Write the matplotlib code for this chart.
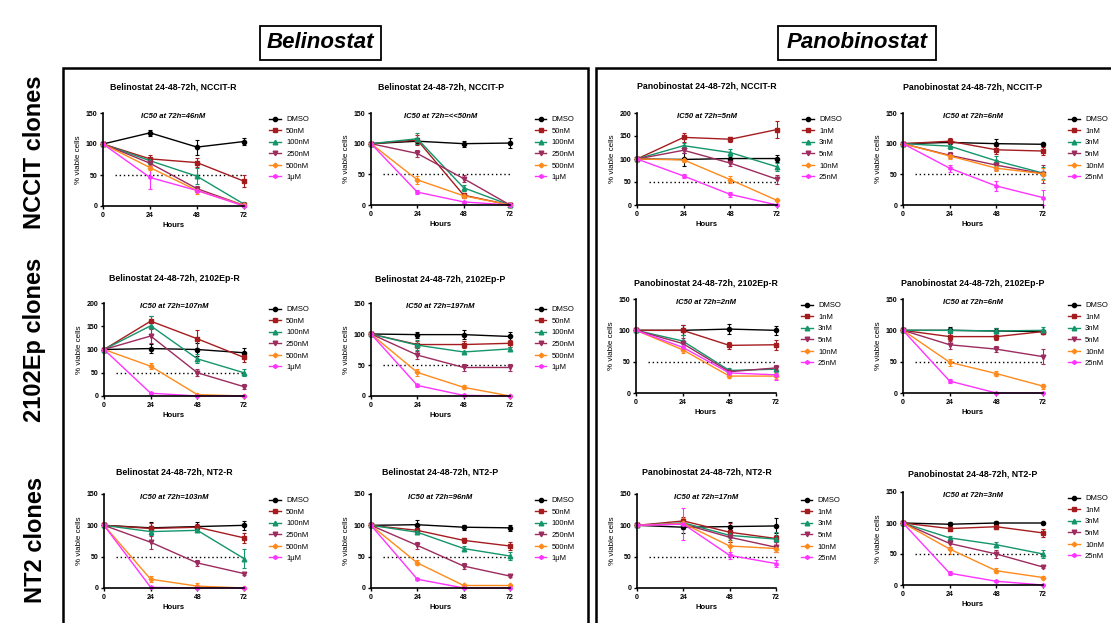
import matplotlib.pyplot as plt
from matplotlib.patches import Rectangle

plt.rcParams['font.family'] = ['Liberation Sans', 'DejaVu Sans']

W, H = 1111, 623

hours = [0, 24, 48, 72]
bel_doses = ['DMSO', '50nM', '100nM', '250nM', '500nM', '1\u03bcM']
pan_doses = ['DMSO', '1nM', '3nM', '5nM', '10nM', '25nM']

# % viable cells, one row per dose (DMSO first), columns = hours
bel_nccit_r = [[100, 118, 95, 104], [100, 76, 70, 40], [100, 73, 48, 3],
               [100, 69, 28, 1], [100, 62, 25, 1], [100, 46, 25, 0]]
bel_nccit_r_err = [[0, 5, 12, 5], [0, 7, 7, 10], [0, 5, 13, 4],
                   [0, 4, 4, 2], [0, 4, 5, 1], [0, 18, 3, 0]]

bel_nccit_p = [[100, 104, 100, 101], [100, 106, 16, 0], [100, 108, 28, 0],
               [100, 84, 43, 0], [100, 41, 15, 0], [100, 21, 5, 0]]
bel_nccit_p_err = [[0, 5, 5, 8], [0, 8, 4, 1], [0, 9, 5, 1],
                   [0, 5, 6, 1], [0, 7, 3, 0], [0, 3, 2, 0]]

pan_nccit_r = [[100, 99, 101, 101], [100, 147, 143, 164], [100, 129, 114, 83],
               [100, 119, 91, 56], [100, 98, 55, 10], [100, 63, 23, 0]]
pan_nccit_r_err = [[0, 15, 8, 8], [0, 10, 5, 18], [0, 5, 8, 8],
                   [0, 5, 7, 10], [0, 5, 8, 2], [0, 4, 5, 0]]

pan_nccit_p = [[100, 102, 100, 99], [100, 104, 90, 88], [100, 96, 72, 52],
               [100, 81, 65, 51], [100, 80, 60, 51], [100, 60, 31, 12]]
pan_nccit_p_err = [[0, 5, 8, 2], [0, 5, 7, 7], [0, 5, 8, 10],
                   [0, 5, 8, 15], [0, 5, 5, 10], [0, 6, 8, 12]]

bel_2102_r = [[100, 102, 100, 93], [100, 161, 123, 83], [100, 151, 80, 50],
              [100, 129, 50, 20], [100, 64, 3, 0], [100, 6, 0, 0]]
bel_2102_r_err = [[0, 10, 15, 10], [0, 10, 20, 10], [0, 20, 10, 8],
                  [0, 15, 7, 5], [0, 6, 1, 0], [0, 1, 0, 0]]

bel_2102_p = [[100, 99, 99, 96], [100, 83, 83, 85], [100, 82, 71, 76],
              [100, 66, 46, 46], [100, 38, 14, 0], [100, 17, 1, 0]]
bel_2102_p_err = [[0, 5, 7, 7], [0, 6, 6, 6], [0, 8, 2, 3],
                  [0, 6, 5, 6], [0, 5, 3, 0], [0, 2, 1, 0]]

pan_2102_r = [[100, 100, 102, 100], [100, 100, 76, 77], [100, 83, 36, 38],
              [100, 79, 34, 40], [100, 69, 27, 27], [100, 73, 32, 29]]
pan_2102_r_err = [[0, 8, 8, 7], [0, 8, 5, 8], [0, 10, 4, 5],
                  [0, 8, 3, 5], [0, 5, 3, 5], [0, 5, 3, 8]]

pan_2102_p = [[100, 100, 99, 98], [100, 90, 90, 98], [100, 100, 99, 100],
              [100, 77, 70, 58], [100, 49, 31, 11], [100, 19, 0, 0]]
pan_2102_p_err = [[0, 5, 4, 3], [0, 5, 5, 3], [0, 4, 4, 5],
                  [0, 6, 5, 12], [0, 6, 4, 4], [0, 3, 0, 0]]

bel_nt2_r = [[100, 96, 98, 100], [100, 95, 97, 80], [100, 90, 92, 47],
             [100, 73, 40, 23], [100, 14, 3, 0], [100, 1, 0, 0]]
bel_nt2_r_err = [[0, 10, 7, 7], [0, 8, 5, 8], [0, 5, 3, 15],
                 [0, 10, 5, 2], [0, 5, 5, 0], [0, 1, 0, 0]]

bel_nt2_p = [[100, 101, 97, 96], [100, 92, 76, 67], [100, 89, 63, 51],
             [100, 68, 35, 19], [100, 40, 4, 4], [100, 14, 0, 0]]
bel_nt2_p_err = [[0, 8, 4, 5], [0, 3, 4, 6], [0, 3, 4, 6],
                 [0, 6, 5, 2], [0, 4, 1, 1], [0, 2, 0, 0]]

pan_nt2_r = [[100, 97, 98, 99], [100, 107, 89, 79], [100, 104, 84, 78],
             [100, 102, 81, 65], [100, 103, 67, 63], [100, 102, 52, 39]]
pan_nt2_r_err = [[0, 10, 8, 12], [0, 6, 15, 5], [0, 5, 8, 12],
                 [0, 8, 7, 8], [0, 8, 15, 5], [0, 25, 5, 6]]

pan_nt2_p = [[100, 98, 100, 100], [100, 91, 94, 84], [100, 76, 65, 50],
             [100, 67, 50, 29], [100, 58, 23, 12], [100, 19, 6, 0]]
pan_nt2_p_err = [[0, 4, 3, 2], [0, 4, 4, 7], [0, 3, 4, 6],
                 [0, 5, 6, 2], [0, 8, 4, 2], [0, 3, 1, 0]]

titles = ['Belinostat 24-48-72h, NCCIT-R', 'Belinostat 24-48-72h, NCCIT-P',
          'Panobinostat 24-48-72h, NCCIT-R', 'Panobinostat 24-48-72h, NCCIT-P',
          'Belinostat 24-48-72h, 2102Ep-R', 'Belinostat 24-48-72h, 2102Ep-P',
          'Panobinostat 24-48-72h, 2102Ep-R', 'Panobinostat 24-48-72h, 2102Ep-P',
          'Belinostat 24-48-72h, NT2-R', 'Belinostat 24-48-72h, NT2-P',
          'Panobinostat 24-48-72h, NT2-R', 'Panobinostat 24-48-72h, NT2-P']
ic50 = ['46nM', '<<50nM', '5nM', '6nM', '107nM', '197nM',
        '2nM', '6nM', '103nM', '96nM', '17nM', '3nM']
ymaxes = [150, 150, 200, 150, 200, 150, 150, 150, 150, 150, 150, 150]

means = [bel_nccit_r, bel_nccit_p, pan_nccit_r, pan_nccit_p,
         bel_2102_r, bel_2102_p, pan_2102_r, pan_2102_p,
         bel_nt2_r, bel_nt2_p, pan_nt2_r, pan_nt2_p]
errs = [bel_nccit_r_err, bel_nccit_p_err, pan_nccit_r_err, pan_nccit_p_err,
        bel_2102_r_err, bel_2102_p_err, pan_2102_r_err, pan_2102_p_err,
        bel_nt2_r_err, bel_nt2_p_err, pan_nt2_r_err, pan_nt2_p_err]

# layout (pixels): x at 0h, x at 72h, y top, y at 0 ; title gap above axes
boxes = [(103, 244, 113, 206), (371, 510, 113, 205), (637, 777, 113, 205), (903, 1043, 113, 205),
         (104, 244, 303, 396), (371, 510, 303, 396), (636, 776, 299, 393), (903, 1043, 299, 393),
         (104, 244, 494, 588), (371, 510, 494, 588), (637, 776, 494, 588), (903, 1043, 492, 585)]
title_gap = [26, 26, 27, 26, 25, 24, 16, 16, 22, 22, 22, 18]

colors = ['#000000', '#a51c1f', '#14956b', '#9c2b5e', '#ff8a1c', '#ff33ff']
markers = ['o', 's', '^', 'v', 'D', 'h']
msizes = [3, 3, 3.3, 3.3, 2.4, 2.6]

fig = plt.figure(figsize=(W / 100, H / 100), dpi=100)

for i in range(12):
    x0, x1, yt, yb = boxes[i]
    w, h = x1 - x0, yb - yt
    ax = fig.add_axes([x0 / W, 1 - yb / H, w / W, h / H])
    doses = bel_doses if titles[i].startswith('Belinostat') else pan_doses
    handles = []
    for k in range(6):
        eb = ax.errorbar(hours, means[i][k], yerr=errs[i][k], color=colors[k],
                         marker=markers[k], ms=msizes[k], lw=1.0, elinewidth=0.8,
                         capsize=1.5, capthick=0.8, clip_on=False)
        handles.append(eb[0])
    ax.plot([6, 72], [50, 50], ls=(0, (1, 2)), color='black', lw=1.0)
    ax.set_xlim(0, 72)
    ax.set_ylim(0, ymaxes[i])
    ax.set_xticks(hours)
    ax.set_yticks(range(0, ymaxes[i] + 1, 50))
    for s in ['top', 'right']:
        ax.spines[s].set_visible(False)
    for s in ['left', 'bottom']:
        ax.spines[s].set_linewidth(1.2)
    ax.tick_params(direction='out', length=2.5, width=1, pad=1.5, labelsize=5)
    for lab in ax.get_xticklabels() + ax.get_yticklabels():
        lab.set_fontweight('bold')
    ax.set_xlabel('Hours', fontsize=5.5, fontweight='bold')
    ax.xaxis.set_label_coords(0.5, -16 / h)
    ax.set_ylabel('% viable cells', fontsize=5.8)
    ax.yaxis.set_label_coords(-21 / w, 0.5)
    ax.text(36, ymaxes[i] * 0.965, 'IC50 at 72h=' + ic50[i], ha='center', va='center',
            fontsize=5.5, fontweight='bold', fontstyle='italic')
    ax.text(0.5, 1 + title_gap[i] / h, titles[i], transform=ax.transAxes,
            ha='center', va='center', fontsize=6.3, fontweight='bold')
    ax.legend(handles, doses, loc='upper left', bbox_to_anchor=(1.18, 1 - 3 / h),
              frameon=False, fontsize=5.5, borderpad=0, borderaxespad=0,
              handlelength=1.5, handletextpad=0.7, labelspacing=0.55)

# big panels frames
fig.patches.append(Rectangle((63 / W, 1 - 640 / H), 525 / W, 572 / H, fill=False,
                             lw=1.8, ec='black', transform=fig.transFigure))
fig.patches.append(Rectangle((596 / W, 1 - 640 / H), 530 / W, 572 / H, fill=False,
                             lw=1.8, ec='black', transform=fig.transFigure))

# drug headers
fig.patches.append(Rectangle((260 / W, 1 - 60 / H), 121 / W, 34 / H, fill=False,
                             lw=1.3, ec='black', transform=fig.transFigure))
fig.patches.append(Rectangle((778 / W, 1 - 60 / H), 158 / W, 34 / H, fill=False,
                             lw=1.3, ec='black', transform=fig.transFigure))
fig.text(320.5 / W, 1 - 43 / H, 'Belinostat', ha='center', va='center',
         fontsize=16, fontweight='bold', fontstyle='italic')
fig.text(857 / W, 1 - 43 / H, 'Panobinostat', ha='center', va='center',
         fontsize=16, fontweight='bold', fontstyle='italic')

# row labels
for lab, yc in [('NCCIT clones', 152), ('2102Ep clones', 340), ('NT2 clones', 540)]:
    fig.text(35 / W, 1 - yc / H, lab, rotation=90, ha='center', va='center',
             fontsize=17, fontweight='bold')

fig.savefig('out.png', dpi=100, facecolor='white')
